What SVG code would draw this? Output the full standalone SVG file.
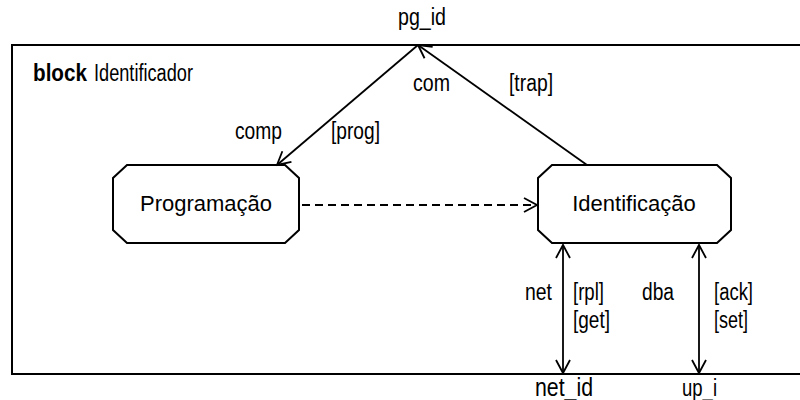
<svg xmlns="http://www.w3.org/2000/svg" width="800" height="400" viewBox="0 0 800 400">
  <defs>
    <style>
      .frame { fill: none; stroke: #000; stroke-width: 2; }
      .node { fill: #fff; stroke: #000; stroke-width: 2; }
      .link { fill: none; stroke: #000; stroke-width: 1.8; }
      .dash { stroke-dasharray: 8 5; }
      .lbl { font-family: "Liberation Sans", Arial, sans-serif; font-size: 23px; fill: #000; }
      .name { font-family: "Liberation Sans", Arial, sans-serif; font-size: 22px; fill: #000; text-anchor: middle; }
    </style>
    <marker id="open" viewBox="-15 -9 17 18" refX="0" refY="0" markerWidth="17" markerHeight="18" markerUnits="userSpaceOnUse" orient="auto-start-reverse">
      <path d="M -13,-7 L 0,0 L -13,7" fill="none" stroke="#000" stroke-width="1.8"/>
    </marker>
  </defs>

  <!-- enclosing block -->
  <g id="block">
    <rect class="frame" x="12" y="45" width="800" height="329"/>
    <text class="lbl" x="33" y="81" font-weight="bold" textLength="54" lengthAdjust="spacingAndGlyphs">block</text>
    <text class="lbl" x="94" y="81" textLength="99" lengthAdjust="spacingAndGlyphs">Identificador</text>
  </g>

  <!-- gates on the block border -->
  <g id="gate-pg_id">
    <text class="lbl" x="398" y="25" textLength="48" lengthAdjust="spacingAndGlyphs">pg_id</text>
  </g>
  <g id="gate-net_id">
    <text class="lbl" x="535" y="396" textLength="58" lengthAdjust="spacingAndGlyphs" style="font-size:25px">net_id</text>
  </g>
  <g id="gate-up_i">
    <text class="lbl" x="682" y="396" textLength="35" lengthAdjust="spacingAndGlyphs">up_i</text>
  </g>

  <!-- processes -->
  <g id="programacao">
    <polygon class="node" points="127,165 285,165 299,178 299,230 285,243 127,243 113,230 113,178"/>
    <text class="name" x="206" y="211">Programação</text>
  </g>
  <g id="identificacao">
    <polygon class="node" points="552,165 717,165 731,178 731,230 717,243 552,243 538,230 538,178"/>
    <text class="name" x="634" y="211">Identificação</text>
  </g>

  <!-- channels -->
  <g id="connectors">
    <line class="link" x1="418" y1="45" x2="277" y2="165" marker-end="url(#open)"/>
    <line class="link" x1="587" y1="165" x2="418" y2="45" marker-end="url(#open)"/>
    <line class="link dash" x1="302" y1="205" x2="537" y2="205" marker-end="url(#open)"/>
    <line class="link" x1="563" y1="245" x2="563" y2="373" marker-start="url(#open)" marker-end="url(#open)"/>
    <line class="link" x1="699" y1="245" x2="699" y2="373" marker-start="url(#open)" marker-end="url(#open)"/>

    <text class="lbl" x="413" y="91" textLength="37" lengthAdjust="spacingAndGlyphs">com</text>
    <text class="lbl" x="509" y="91" textLength="44" lengthAdjust="spacingAndGlyphs">[trap]</text>
    <text class="lbl" x="235" y="139" textLength="47" lengthAdjust="spacingAndGlyphs">comp</text>
    <text class="lbl" x="331" y="139" textLength="49" lengthAdjust="spacingAndGlyphs">[prog]</text>
    <text class="lbl" x="525" y="300" textLength="27" lengthAdjust="spacingAndGlyphs">net</text>
    <text class="lbl" x="573" y="300" textLength="31" lengthAdjust="spacingAndGlyphs">[rpl]</text>
    <text class="lbl" x="573" y="328" textLength="37" lengthAdjust="spacingAndGlyphs">[get]</text>
    <text class="lbl" x="642" y="300" textLength="32" lengthAdjust="spacingAndGlyphs">dba</text>
    <text class="lbl" x="714" y="300" textLength="39" lengthAdjust="spacingAndGlyphs">[ack]</text>
    <text class="lbl" x="714" y="328" textLength="34" lengthAdjust="spacingAndGlyphs">[set]</text>
  </g>
</svg>
